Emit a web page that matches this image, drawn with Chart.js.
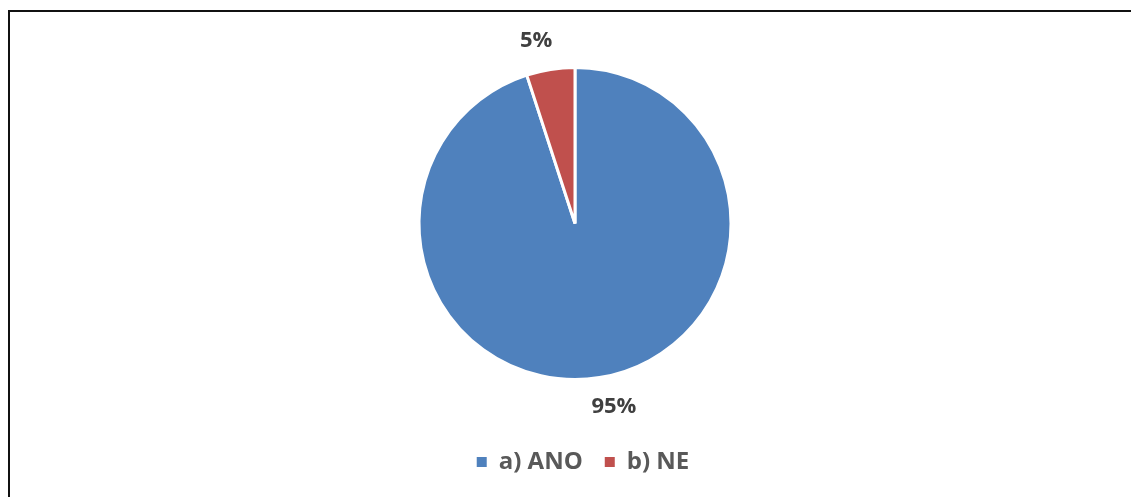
<!DOCTYPE html>
<html lang="cs">
<head>
  <meta charset="UTF-8">
  <title>ANO / NE</title>
  <style>
    * { margin: 0; padding: 0; box-sizing: border-box; }
    body { background: #fff; width: 1131px; height: 497px; overflow: hidden; position: relative; }
    .frame {
      position: absolute;
      left: 8px;
      top: 10px;
      width: 1140px;
      height: 500px;
      border-left: 2px solid #111;
      border-top: 2px solid #111;
    }
    .chart-box { position: absolute; left: 0; top: 0; width: 1131px; height: 497px; }
  </style>
</head>
<body>
<div class="frame"></div>
<div class="chart-box">
  <canvas id="pieChart"></canvas>
</div>

<script src="https://cdn.jsdelivr.net/npm/chart.js"></script>
<script>
  const categories = ['a) ANO', 'b) NE'];
  const shares = [95, 5];
  const colors = ['#4F81BD', '#C0504D'];

  // percentage labels outside each slice, nudged a little counter-clockwise
  const outsideLabels = {
    id: 'outsideLabels',
    afterDatasetsDraw(chart) {
      const ctx = chart.ctx;
      const meta = chart.getDatasetMeta(0);
      const total = shares.reduce((a, b) => a + b, 0);
      ctx.save();
      ctx.font = 'bold 22px "Open Sans", sans-serif';
      ctx.fillStyle = '#404040';
      ctx.textAlign = 'center';
      ctx.textBaseline = 'middle';
      meta.data.forEach((arc, i) => {
        const mid = (arc.startAngle + arc.endAngle) / 2 - 3 * Math.PI / 180;
        const r = arc.outerRadius + 31;
        const x = arc.x + Math.cos(mid) * r;
        const y = arc.y + Math.sin(mid) * r;
        ctx.fillText(Math.round(shares[i] / total * 100) + '%', x, y);
      });
      ctx.restore();
    }
  };

  // legend row sits a bit right of the pie centre
  const legendShift = {
    id: 'legendShift',
    afterLayout(chart) {
      if (chart.legend) {
        chart.legend.left += 8;
        chart.legend.right += 8;
      }
    }
  };

  new Chart(document.getElementById('pieChart'), {
    type: 'pie',
    data: {
      labels: categories,
      datasets: [{
        data: shares,
        backgroundColor: colors,
        borderColor: '#ffffff',
        borderWidth: 3
      }]
    },
    options: {
      responsive: true,
      maintainAspectRatio: false,
      animation: false,
      radius: 156,
      layout: { padding: { top: 19, bottom: 13, left: 19, right: 0 } },
      plugins: {
        tooltip: { enabled: false },
        legend: {
          position: 'bottom',
          labels: {
            color: '#595959',
            boxWidth: 10,
            boxHeight: 10,
            padding: 22,
            font: { size: 24, weight: 'bold', family: '"Open Sans", sans-serif' },
            // plain filled squares, no white slice border around them
            generateLabels(chart) {
              const items = Chart.overrides.pie.plugins.legend.labels.generateLabels(chart);
              items.forEach(it => { it.lineWidth = 0; });
              return items;
            }
          }
        }
      }
    },
    plugins: [outsideLabels, legendShift]
  });
</script>
</body>
</html>
